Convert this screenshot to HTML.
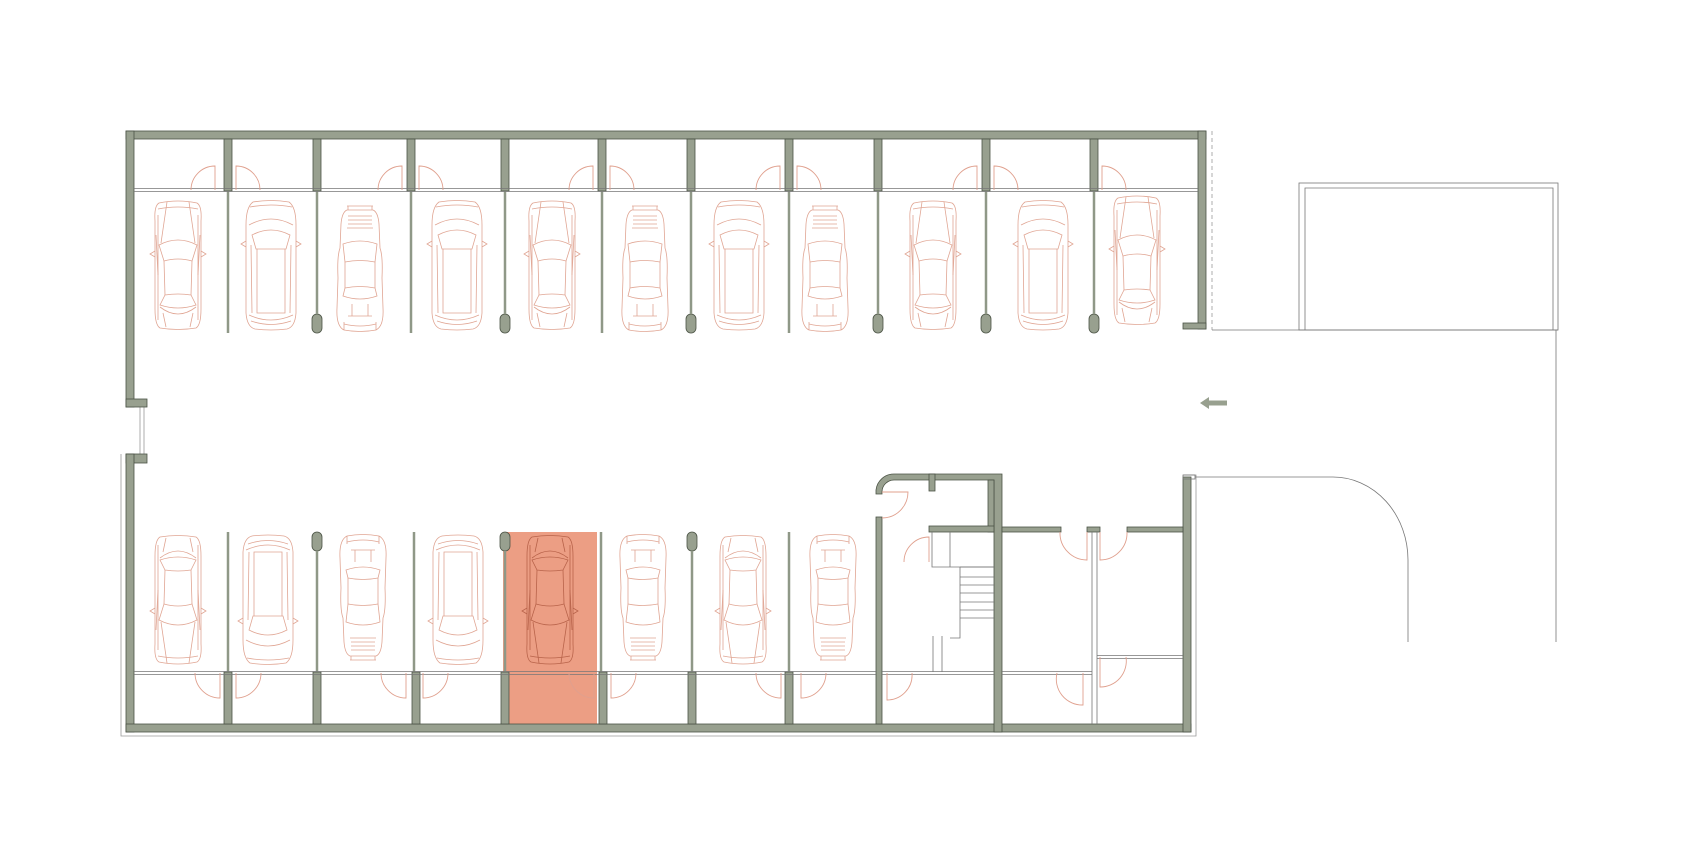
<!DOCTYPE html>
<html><head><meta charset="utf-8"><style>
html,body{margin:0;padding:0;background:#fff;}
svg{display:block;}
</style></head><body>
<svg width="1692" height="864" viewBox="0 0 1692 864" xmlns="http://www.w3.org/2000/svg">
<defs>
<g id="sedan" fill="none" stroke-width="0.8">
<path d="M-19,-62 Q0,-66 19,-62 Q24,-59 23,-44 L23,44 Q23,60 18,63 Q0,66 -18,63 Q-23,60 -23,44 L-23,-44 Q-24,-59 -19,-62 Z"/>
<path d="M-20,-56 Q0,-60 20,-56 M-20,-50 L-20,55 M20,-50 L20,55"/>
<path d="M-11,-63 L-17,-22 M11,-63 L17,-22"/>
<path d="M-19,-20 Q0,-30 19,-20 L14,-4 Q0,-8 -14,-4 Z"/>
<path d="M-14,-4 L-13,30 M14,-4 L13,30"/>
<path d="M-13,30 Q0,28 13,30 L18,40 Q0,46 -18,40 Z"/>
<path d="M-18,42 Q0,56 18,42 M-15,48 L-12,62 M15,48 L12,62"/>
<path d="M-23,-14 L-28,-11 L-23,-8 M23,-14 L28,-11 L23,-8"/>
<path d="M-22,-30 L-20,10 M22,-30 L20,10"/>
</g>
<g id="suv" fill="none" stroke-width="0.8">
<path d="M-18,-63 Q0,-66 18,-63 Q25,-58 25,-40 L25,48 Q24,62 16,64 Q0,66 -16,64 Q-24,62 -25,48 L-25,-40 Q-25,-58 -18,-63 Z"/>
<path d="M-21,-58 Q0,-62 21,-58 M-22,-40 Q0,-52 22,-40"/>
<path d="M-19,-30 Q0,-40 19,-30 L15,-16 L-15,-16 Z"/>
<path d="M-14,-16 L-14,48 L14,48 L14,-16"/>
<path d="M-20,-20 L-19,48 M20,-20 L19,48"/>
<path d="M-22,50 Q0,60 22,50 M-20,56 Q0,63 20,56"/>
<path d="M-25,-24 L-30,-21 L-25,-18 M25,-24 L30,-21 L25,-18"/>
</g>
<g id="p911" fill="none" stroke-width="0.8">
<path d="M-13,-58 L13,-58 Q18,-56 19,-44 L20,-20 Q23,-12 22,10 L23,40 Q24,58 16,62 Q0,65 -16,62 Q-24,58 -23,40 L-22,10 Q-23,-12 -20,-20 L-19,-44 Q-18,-56 -13,-58 Z"/>
<path d="M-12,-62 L-12,-58 M12,-62 L12,-58 M-13,-62 L13,-62"/>
<path d="M-12,-52 L12,-52 M-12,-48 L12,-48 M-12,-44 L12,-44 M-13,-40 L13,-40"/>
<path d="M-17,-24 Q0,-30 17,-24 L15,-6 Q0,-9 -15,-6 Z"/>
<path d="M-15,-6 L-15,20 M15,-6 L15,20"/>
<path d="M-15,20 Q0,17 15,20 L17,28 Q0,34 -17,28 Z"/>
<path d="M-8,36 L-8,48 M8,36 L8,48 M-12,48 L12,48"/>
<path d="M-16,56 Q0,60 16,56 M-16,54 L-16,62 M16,54 L16,62"/>
</g>
</defs>

<!-- outer thin outline -->
<g fill="none" stroke="#9a9a9a" stroke-width="0.8">
<path d="M121,454 L121,736 L1196,736 L1196,475 L1183,475"/>
<path d="M1212,131 L1212,330" stroke-dasharray="4,3"/>
<path d="M140,407 L140,454 M144,407 L144,454"/>
</g>

<!-- highlighted stall -->
<rect x="503" y="532" width="94" height="192" fill="#ec9e84"/>

<!-- walls -->
<g fill="#98a08f" stroke="#4b5345" stroke-width="0.8">
<rect x="126" y="131" width="1080" height="8"/>
<rect x="126" y="131" width="8" height="276"/>
<rect x="126" y="399" width="21" height="8"/>
<rect x="126" y="454" width="21" height="9"/>
<rect x="126" y="454" width="8" height="278"/>
<rect x="126" y="724" width="1065" height="8"/>
<rect x="1198" y="131" width="8" height="198"/>
<rect x="1183" y="323" width="23" height="6"/>
<rect x="1183" y="477" width="8" height="255"/>
<!-- upper columns -->
<rect x="224" y="139" width="8" height="52"/>
<rect x="313" y="139" width="8" height="52"/>
<rect x="407" y="139" width="8" height="52"/>
<rect x="501" y="139" width="8" height="52"/>
<rect x="598" y="139" width="8" height="52"/>
<rect x="687" y="139" width="8" height="52"/>
<rect x="785" y="139" width="8" height="52"/>
<rect x="874" y="139" width="8" height="52"/>
<rect x="982" y="139" width="8" height="52"/>
<rect x="1090" y="139" width="8" height="52"/>
<!-- upper capsules -->
<rect x="312" y="314" width="10" height="19" rx="5"/>
<rect x="500" y="314" width="10" height="19" rx="5"/>
<rect x="686" y="314" width="10" height="19" rx="5"/>
<rect x="873" y="314" width="10" height="19" rx="5"/>
<rect x="981" y="314" width="10" height="19" rx="5"/>
<rect x="1089" y="314" width="10" height="19" rx="5"/>
<!-- lower columns -->
<rect x="224" y="672" width="8" height="52"/>
<rect x="313" y="672" width="8" height="52"/>
<rect x="412" y="672" width="8" height="52"/>
<rect x="501" y="672" width="8" height="52"/>
<rect x="599" y="672" width="8" height="52"/>
<rect x="688" y="672" width="8" height="52"/>
<rect x="785" y="672" width="8" height="52"/>
<!-- lower capsules -->
<rect x="312" y="532" width="10" height="19" rx="5"/>
<rect x="500" y="532" width="10" height="19" rx="5"/>
<rect x="687" y="532" width="10" height="19" rx="5"/>
<!-- core -->
<path d="M876,494 L876,490 A18,18 0 0 1 894,474 L1002,474 L1002,732 L994,732 L994,480 L894,480 A12,12 0 0 0 882,492 L882,494 Z"/>
<rect x="876" y="517" width="6" height="207"/>
<rect x="929" y="474" width="6" height="17"/>
<rect x="988" y="480" width="6" height="52"/>
<rect x="929" y="526" width="65" height="6"/>
<rect x="1002" y="527" width="59" height="5"/>
<rect x="1087" y="527" width="13" height="5"/>
<rect x="1127" y="527" width="56" height="5"/>
</g>

<!-- divider lines -->
<g stroke="#8f9887" stroke-width="2.5">
<line x1="228" y1="191" x2="228" y2="333"/>
<line x1="317" y1="191" x2="317" y2="314"/>
<line x1="411" y1="191" x2="411" y2="333"/>
<line x1="505" y1="191" x2="505" y2="314"/>
<line x1="602" y1="191" x2="602" y2="333"/>
<line x1="691" y1="191" x2="691" y2="314"/>
<line x1="789" y1="191" x2="789" y2="333"/>
<line x1="878" y1="191" x2="878" y2="314"/>
<line x1="986" y1="191" x2="986" y2="314"/>
<line x1="1094" y1="191" x2="1094" y2="314"/>
<line x1="228" y1="532" x2="228" y2="672"/>
<line x1="317" y1="551" x2="317" y2="672"/>
<line x1="414" y1="532" x2="414" y2="672"/>
<line x1="505" y1="551" x2="505" y2="672"/>
<line x1="601" y1="532" x2="601" y2="672"/>
<line x1="692" y1="551" x2="692" y2="672"/>
<line x1="789" y1="532" x2="789" y2="672"/>
</g>

<!-- partition lines -->
<g stroke="#777" stroke-width="0.8" fill="none">
<path d="M134,188.5 L1198,188.5 M134,191.5 L1198,191.5"/>
<path d="M134,671.5 L876,671.5 M134,674.5 L876,674.5 M882,671.5 L994,671.5 M882,674.5 L994,674.5 M1002,671.5 L1092,671.5 M1002,674.5 L1092,674.5"/>
<path d="M1092,532 L1092,724 M1097,532 L1097,724"/>
<path d="M1097,655.5 L1183,655.5 M1097,658.5 L1183,658.5"/>
<!-- stairs -->
<path d="M960,567 L994,567 M960,577 L994,577 M960,585 L994,585 M960,593 L994,593 M960,602 L994,602 M960,610 L994,610 M960,618 L994,618"/>
<path d="M932,532 L932,567 L994,567 M950,532 L950,567 M960,567 L960,638 L950,638 M933,636 L933,672 M942,636 L942,672"/>
<!-- garage / ramp -->
<rect x="1299" y="183" width="259" height="147"/>
<path d="M1305,330 L1305,188 L1553,188 L1553,330"/>
<path d="M1212,330 L1558,330 M1556,330 L1556,642"/>
<path d="M1195,477 L1333,477 A75,83 0 0 1 1408,560 L1408,642"/>
<rect x="1183" y="475" width="12" height="4"/>
</g>

<!-- arrow -->
<path d="M1200,403 L1209,397 L1209,400.5 L1227,400.5 L1227,405.5 L1209,405.5 L1209,409 Z" fill="#98a08f"/>

<!-- doors -->
<g fill="none" stroke="#e0a08e" stroke-width="0.9">
<path d="M215,190 L215,166 A24,24 0 0 0 191,190"/>
<path d="M236,190 L236,166 A24,24 0 0 1 260,190"/>
<path d="M402,190 L402,166 A24,24 0 0 0 378,190"/>
<path d="M419,190 L419,166 A24,24 0 0 1 443,190"/>
<path d="M593,190 L593,166 A24,24 0 0 0 569,190"/>
<path d="M610,190 L610,166 A24,24 0 0 1 634,190"/>
<path d="M780,190 L780,166 A24,24 0 0 0 756,190"/>
<path d="M797,190 L797,166 A24,24 0 0 1 821,190"/>
<path d="M977,190 L977,166 A24,24 0 0 0 953,190"/>
<path d="M994,190 L994,166 A24,24 0 0 1 1018,190"/>
<path d="M1102,190 L1102,166 A24,24 0 0 1 1126,190"/>
<path d="M220,673 L220,698 A25,25 0 0 1 195,673"/>
<path d="M236,673 L236,698 A25,25 0 0 0 261,673"/>
<path d="M406,673 L406,698 A25,25 0 0 1 381,673"/>
<path d="M423,673 L423,698 A25,25 0 0 0 448,673"/>
<path d="M594,673 L594,698 A25,25 0 0 1 569,673"/>
<path d="M611,673 L611,698 A25,25 0 0 0 636,673"/>
<path d="M781,673 L781,698 A25,25 0 0 1 756,673"/>
<path d="M801,673 L801,698 A25,25 0 0 0 826,673"/>
<path d="M887,673 L887,700 A25,25 0 0 0 912,673"/>
<path d="M1083,673 L1083,705 A26,26 0 0 1 1057,673"/>
<path d="M1100,657 L1100,687 A26,26 0 0 0 1126,657"/>
<path d="M1087,532 L1087,560 A27,27 0 0 1 1060,532"/>
<path d="M1100,532 L1100,560 A27,27 0 0 0 1127,532"/>
<path d="M882,492 L908,492 A26,26 0 0 1 882,518"/>
<path d="M929,562 L929,537 A25,25 0 0 0 904,562"/>
</g>

<!-- cars upper -->
<g stroke="#e0a593">
<use href="#sedan" transform="translate(178,265)"/>
<use href="#suv" transform="translate(271,265)"/>
<use href="#p911" transform="translate(360,268)"/>
<use href="#suv" transform="translate(457,265)"/>
<use href="#sedan" transform="translate(552,265)"/>
<use href="#p911" transform="translate(645,268)"/>
<use href="#suv" transform="translate(739,265)"/>
<use href="#p911" transform="translate(825,268)"/>
<use href="#sedan" transform="translate(933,265)"/>
<use href="#suv" transform="translate(1043,265)"/>
<use href="#sedan" transform="translate(1137,260)"/>
</g>
<!-- cars lower -->
<g stroke="#e0a593">
<use href="#sedan" transform="translate(178,600) scale(1,-1)"/>
<use href="#suv" transform="translate(268,600) scale(1,-1)"/>
<use href="#p911" transform="translate(363,598) scale(1,-1)"/>
<use href="#suv" transform="translate(458,600) scale(1,-1)"/>
<use href="#p911" transform="translate(643,598) scale(1,-1)"/>
<use href="#sedan" transform="translate(743,600) scale(1,-1)"/>
<use href="#p911" transform="translate(833,598) scale(1,-1)"/>
</g>
<g stroke="#b8634a">
<use href="#sedan" transform="translate(550,600) scale(1,-1)"/>
</g>
</svg>
</body></html>
